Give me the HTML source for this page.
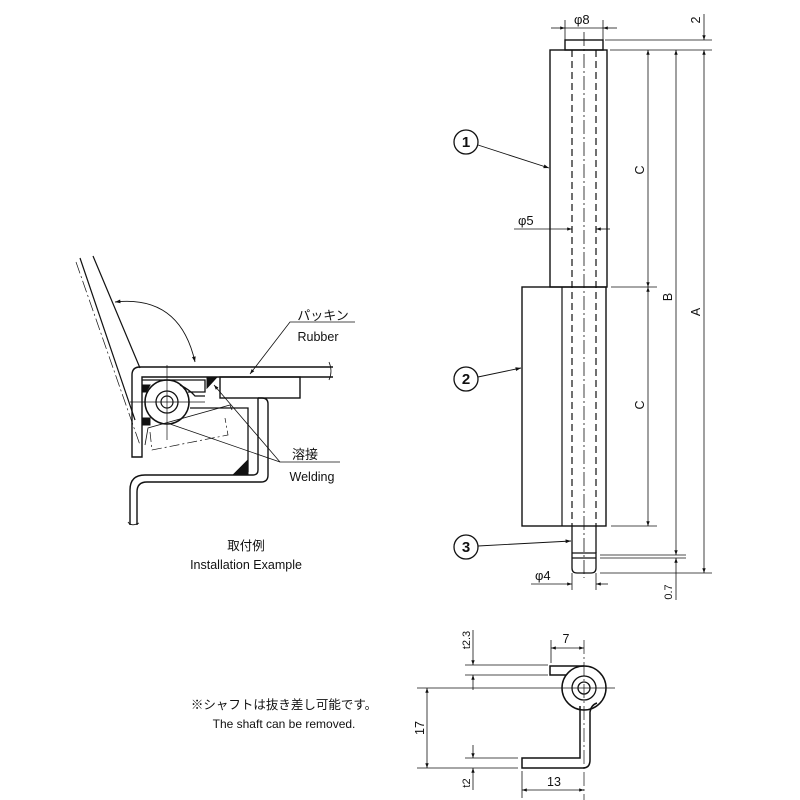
<!DOCTYPE html>
<html><head><meta charset="utf-8"><style>
html,body{margin:0;padding:0;background:#fff;width:800px;height:800px;overflow:hidden}
svg text{font-family:"Liberation Sans","Noto Sans CJK JP",sans-serif;fill:#111}
</style></head><body>
<svg width="800" height="800" viewBox="0 0 800 800" xmlns="http://www.w3.org/2000/svg">
<defs>
<marker id="a" viewBox="0 0 10 10" refX="10" refY="5" markerWidth="8" markerHeight="6" orient="auto-start-reverse"><path d="M0,1.5 L10,5 L0,8.5 z" fill="#111"/></marker>
</defs>
<g stroke="#111" fill="none" stroke-width="1">
<rect x="565" y="40" width="38" height="10" stroke-width="1.4"/>
<rect x="550" y="50" width="57" height="237" stroke-width="1.4"/>
<rect x="522" y="287" width="84" height="239" stroke-width="1.4"/>
<line x1="562" y1="287" x2="562" y2="526" stroke-width="1.2"/>
<line x1="572" y1="50" x2="572" y2="526" stroke-dasharray="7,4" stroke-width="1.2"/>
<line x1="596" y1="50" x2="596" y2="526" stroke-dasharray="7,4" stroke-width="1.2"/>
<line x1="584" y1="32" x2="584" y2="578" stroke-dasharray="14,3,2,3" stroke-width="0.8"/>
<path d="M572,526 V553 M596,526 V553" stroke-width="1.3"/>
<path d="M572,553 H596 V558 M572,553 V558 H596 M572,558 V568 Q572,573 577,573 H591 Q596,573 596,568 V558" stroke-width="1.3"/>
<line x1="565" y1="20" x2="565" y2="40" stroke-width="0.8"/>
<line x1="603" y1="20" x2="603" y2="40" stroke-width="0.8"/>
<line x1="551" y1="28" x2="565" y2="28" marker-end="url(#a)" stroke-width="0.8"/>
<line x1="617" y1="28" x2="603" y2="28" marker-end="url(#a)" stroke-width="0.8"/>
<line x1="565" y1="28" x2="603" y2="28" stroke-width="0.8"/>
<line x1="514" y1="229" x2="572" y2="229" marker-end="url(#a)" stroke-width="0.8"/>
<line x1="610" y1="229" x2="596" y2="229" marker-end="url(#a)" stroke-width="0.8"/>
<line x1="605" y1="40" x2="712" y2="40" stroke-width="0.8"/>
<line x1="610" y1="50" x2="712" y2="50" stroke-width="0.8"/>
<line x1="611" y1="287" x2="657" y2="287" stroke-width="0.8"/>
<line x1="611" y1="526" x2="657" y2="526" stroke-width="0.8"/>
<line x1="600" y1="555" x2="686" y2="555" stroke-width="0.8"/>
<line x1="600" y1="558" x2="686" y2="558" stroke-width="0.8"/>
<line x1="600" y1="573" x2="712" y2="573" stroke-width="0.8"/>
<line x1="648" y1="50" x2="648" y2="287" marker-start="url(#a)" marker-end="url(#a)" stroke-width="0.8"/>
<line x1="648" y1="287" x2="648" y2="526" marker-start="url(#a)" marker-end="url(#a)" stroke-width="0.8"/>
<line x1="676" y1="50" x2="676" y2="555" marker-start="url(#a)" marker-end="url(#a)" stroke-width="0.8"/>
<line x1="704" y1="50" x2="704" y2="573" marker-start="url(#a)" marker-end="url(#a)" stroke-width="0.8"/>
<line x1="704" y1="14" x2="704" y2="40" marker-end="url(#a)" stroke-width="0.8"/>
<line x1="676" y1="600" x2="676" y2="558" marker-end="url(#a)" stroke-width="0.8"/>
<line x1="572" y1="573" x2="572" y2="590" stroke-width="0.8"/>
<line x1="596" y1="573" x2="596" y2="590" stroke-width="0.8"/>
<line x1="531" y1="584" x2="572" y2="584" marker-end="url(#a)" stroke-width="0.8"/>
<line x1="608" y1="584" x2="596" y2="584" marker-end="url(#a)" stroke-width="0.8"/>
<circle cx="466" cy="142" r="12" stroke-width="1.3"/>
<line x1="478" y1="145" x2="549" y2="168" marker-end="url(#a)" stroke-width="0.9"/>
<circle cx="466" cy="379" r="12" stroke-width="1.3"/>
<line x1="478" y1="377" x2="521" y2="368" marker-end="url(#a)" stroke-width="0.9"/>
<circle cx="466" cy="547" r="12" stroke-width="1.3"/>
<line x1="478" y1="546" x2="571" y2="541" marker-end="url(#a)" stroke-width="0.9"/>

<circle cx="584" cy="688" r="22" stroke-width="1.5"/>
<circle cx="584" cy="688" r="12" stroke-width="1.3"/>
<circle cx="584" cy="688" r="6" stroke-width="1.3"/>
<path d="M584,666 H550 V675 H566" stroke-width="1.5"/>
<path d="M580,706 V758 H522 V768 H583 Q590,768 590,760 V712 Q591,705 597,703" stroke-width="1.5"/>
<line x1="584" y1="640" x2="584" y2="800" stroke-dasharray="14,3,2,3" stroke-width="0.7"/>
<line x1="417" y1="688" x2="615" y2="688" stroke-width="0.8"/>
<line x1="465" y1="665" x2="548" y2="665" stroke-width="0.8"/>
<line x1="465" y1="675" x2="548" y2="675" stroke-width="0.8"/>
<line x1="465" y1="758" x2="518" y2="758" stroke-width="0.8"/>
<line x1="417" y1="768" x2="518" y2="768" stroke-width="0.8"/>
<line x1="427" y1="688" x2="427" y2="768" marker-start="url(#a)" marker-end="url(#a)" stroke-width="0.8"/>
<line x1="473" y1="630" x2="473" y2="665" marker-end="url(#a)" stroke-width="0.8"/>
<line x1="473" y1="690" x2="473" y2="675" marker-end="url(#a)" stroke-width="0.8"/>
<line x1="473" y1="745" x2="473" y2="758" marker-end="url(#a)" stroke-width="0.8"/>
<line x1="473" y1="790" x2="473" y2="768" marker-end="url(#a)" stroke-width="0.8"/>
<line x1="551" y1="640" x2="551" y2="663" stroke-width="0.8"/>
<line x1="551" y1="648" x2="584" y2="648" marker-start="url(#a)" marker-end="url(#a)" stroke-width="0.8"/>
<line x1="522" y1="771" x2="522" y2="798" stroke-width="0.8"/>
<line x1="522" y1="790" x2="584" y2="790" marker-start="url(#a)" marker-end="url(#a)" stroke-width="0.8"/>

<line x1="80" y1="258" x2="135" y2="420" stroke-width="1.2"/>
<line x1="93" y1="256" x2="140" y2="368" stroke-width="1.2"/>
<line x1="76" y1="262" x2="140" y2="445" stroke-dasharray="12,3,2,3" stroke-width="0.7"/>
<path d="M115,302 Q180,295 195,362" marker-start="url(#a)" marker-end="url(#a)" stroke-width="0.9"/>
<path d="M333,367 H140 Q132,367 132,375 V457 H142 V377 H220" stroke-width="1.4"/>
<path d="M220,377 H333" stroke-width="1.4"/>
<path d="M329,362 Q333,371 329,380" stroke-width="0.8"/>
<rect x="220" y="377" width="80" height="21" stroke-width="1.4"/>
<path d="M258,398 H262 Q268,398 268,404 V475 Q268,482 261,482 H147 Q137,482 137,492 V525" stroke-width="1.4"/>
<path d="M258,398 V470 Q258,475 253,475 H145 Q130,475 130,490 V525" stroke-width="1.4"/>
<path d="M128,522 Q131,527 139,523" stroke-width="0.8"/>
<path d="M142,380 H205 V392 H188" stroke-width="1.3"/>
<path d="M190,408 H248 V472" stroke-width="1.3"/>
<path d="M145,445 L148,428 L230,405 L232,410" stroke-width="0.8"/>
<path d="M150,432 L152,450 L228,435 L225,418" stroke-dasharray="10,3,2,3" stroke-width="0.7"/>
<circle cx="167" cy="402" r="22" stroke-width="1.5"/>
<circle cx="167" cy="402" r="11" stroke-width="1.3"/>
<circle cx="167" cy="402" r="6" stroke-width="1.2"/>
<path d="M180,385 Q190,390 195,396 H205" stroke-width="1.3"/>
<line x1="130" y1="402" x2="205" y2="402" stroke-width="0.7"/>
<line x1="167" y1="365" x2="167" y2="440" stroke-width="0.7"/>
<path d="M207,377 H217 L207,388 z" fill="#111"/>
<path d="M142,385 L150,385 L146,392 L142,392 z" fill="#111"/>
<path d="M143,418 L150,418 L150,425 L143,425 z" fill="#111"/>
<path d="M248,460 V474 H234 z" fill="#111"/>
<polyline points="355,322 290,322 250,374" stroke-width="0.8" marker-end="url(#a)"/>
<polyline points="340,462 280,462 214,385" stroke-width="0.8" marker-end="url(#a)"/>
<line x1="280" y1="462" x2="170" y2="424" stroke-width="0.8"/>
</g>
<g font-size="12.5">
<text x="574" y="24" font-size="13">φ8</text>
<text x="518" y="225" font-size="13">φ5</text>
<text x="535" y="580" font-size="13">φ4</text>
<text x="466" y="147" text-anchor="middle" font-size="15" font-weight="bold">1</text>
<text x="466" y="384" text-anchor="middle" font-size="15" font-weight="bold">2</text>
<text x="466" y="552" text-anchor="middle" font-size="15" font-weight="bold">3</text>
<text transform="translate(644,170) rotate(-90)" text-anchor="middle">C</text>
<text transform="translate(644,405) rotate(-90)" text-anchor="middle">C</text>
<text transform="translate(672,297) rotate(-90)" text-anchor="middle">B</text>
<text transform="translate(700,312) rotate(-90)" text-anchor="middle">A</text>
<text transform="translate(700,20) rotate(-90)" text-anchor="middle">2</text>
<text transform="translate(672,592) rotate(-90)" text-anchor="middle" font-size="11">0.7</text>
<text x="566" y="643" text-anchor="middle">7</text>
<text x="554" y="786" text-anchor="middle">13</text>
<text transform="translate(424,728) rotate(-90)" text-anchor="middle">17</text>
<text transform="translate(470,640) rotate(-90)" text-anchor="middle" font-size="11">t2.3</text>
<text transform="translate(470,783) rotate(-90)" text-anchor="middle" font-size="11">t2</text>
<text x="284" y="709" text-anchor="middle" font-size="12.5">※シャフトは抜き差し可能です。</text>
<text x="284" y="728" text-anchor="middle" font-size="12">The shaft can be removed.</text>
<text x="323" y="320" text-anchor="middle" font-size="13">パッキン</text>
<text x="318" y="341" text-anchor="middle">Rubber</text>
<text x="305" y="459" text-anchor="middle" font-size="13">溶接</text>
<text x="312" y="481" text-anchor="middle">Welding</text>
<text x="246" y="550" text-anchor="middle" font-size="12.5">取付例</text>
<text x="246" y="569" text-anchor="middle" font-size="12.5">Installation Example</text>
</g>
</svg>
</body></html>
